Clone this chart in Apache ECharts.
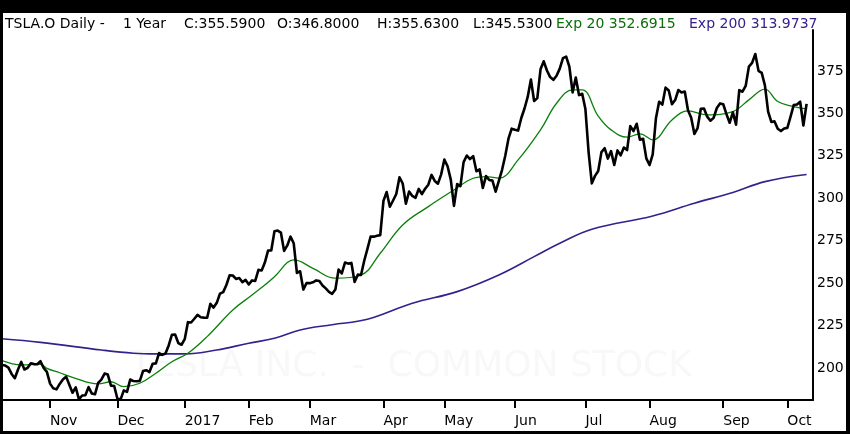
<!DOCTYPE html>
<html><head><meta charset="utf-8">
<script src="https://cdn.jsdelivr.net/npm/echarts@6/dist/echarts.min.js"></script>
<style>html,body{margin:0;padding:0;background:#fff;}#c{width:850px;height:434px;}</style>
</head><body><div id="c"></div>
<script>
// ---- data ----
const firstDay = '2016-10-11';
const lastDay = '2017-10-12';
const holidays = ['2016-11-24','2016-12-26','2017-01-02','2017-01-16','2017-02-20','2017-04-14','2017-05-29','2017-07-04','2017-09-04'];
const monthNames = ['Jan','Feb','Mar','Apr','May','Jun','Jul','Aug','Sep','Oct','Nov','Dec'];
const yTicks = [200,225,250,275,300,325,350,375];

// daily closes from 2016-10-11 to 2017-10-10
const closes = [
  201.8,201.5,200.2,196.5,194.0,199.1,203.6,199.1,200.1,202.8,202.3,202.2,204.0,200.0,197.7,
  190.8,188.0,187.4,190.6,193.2,194.9,190.1,185.4,188.6,181.5,183.8,183.9,188.7,185.0,184.5,191.2,193.1,196.7,196.1,189.6,189.4,
  181.9,181.5,186.8,185.9,193.2,192.3,192.2,192.4,198.2,198.7,197.6,202.5,202.7,208.8,207.7,208.5,213.3,219.5,219.7,214.7,213.7,
  217.0,227.0,226.8,229.0,231.3,229.9,229.7,229.6,237.8,235.6,238.4,243.8,244.7,248.9,254.6,254.5,252.5,253.0,250.6,251.9,
  249.2,251.6,251.3,257.8,257.5,262.1,269.2,269.2,280.6,281.0,279.8,269.0,272.2,277.4,273.5,256.0,257.0,246.2,250.0,
  250.0,250.5,251.6,251.2,248.6,246.9,244.9,243.7,246.2,258.0,255.7,262.1,261.5,261.9,250.7,255.0,254.8,263.2,270.2,277.5,277.4,277.9,278.3,
  298.5,303.7,295.0,298.7,302.5,312.4,308.7,296.8,304.0,301.4,300.3,305.5,302.5,305.6,308.0,313.8,310.2,308.6,314.1,
  322.8,318.9,311.0,295.5,308.4,307.2,321.3,325.2,323.1,324.8,315.9,317.0,306.1,313.1,310.8,310.4,303.9,310.2,316.8,325.1,335.1,341.0,
  340.4,339.9,347.3,352.9,359.7,370.0,357.3,359.0,376.0,380.7,375.3,371.4,369.8,372.2,376.4,382.6,383.5,377.5,362.4,371.2,360.8,361.6,
  352.6,327.1,308.8,313.2,316.1,327.2,329.5,323.4,327.8,319.6,328.2,325.3,329.9,328.4,342.5,339.6,343.9,334.5,335.1,323.5,
  319.6,325.9,347.1,356.9,355.2,365.2,363.5,355.4,357.9,363.8,362.3,362.9,351.9,347.5,337.9,341.4,352.8,352.9,348.1,345.7,347.4,353.2,355.9,
  355.4,349.6,344.5,350.6,343.4,363.7,362.8,366.2,377.6,379.8,385.0,375.1,373.9,366.5,351.1,345.0,345.3,341.0,339.6,341.1,
  341.5,348.1,355.0,355.3,356.9,342.9,355.6
];

const ema20Dates = ['2016-10-11','2016-10-19','2016-10-27','2016-10-31','2016-11-04','2016-11-10','2016-11-22','2016-11-29','2016-12-05','2016-12-12',
  '2016-12-19','2016-12-27','2017-01-04','2017-01-12','2017-01-25','2017-02-02','2017-02-13','2017-02-17','2017-02-22','2017-03-02',
  '2017-03-13','2017-03-23','2017-03-31','2017-04-11','2017-04-24','2017-05-04','2017-05-12','2017-05-18','2017-05-24','2017-06-02',
  '2017-06-13','2017-06-20','2017-06-27','2017-06-30','2017-07-10','2017-07-14','2017-07-21','2017-07-27','2017-08-02','2017-08-10',
  '2017-08-17','2017-08-25','2017-09-07','2017-09-14','2017-09-21','2017-09-27','2017-10-04','2017-10-10'];
const ema20Values = [204.3,201.8,202.2,199.8,197.2,194.5,190.6,191.9,189.0,191.0,
  196.9,203.7,208.7,218.5,234.2,243.0,253.8,262.1,263.7,258.7,
  252.9,254.8,267.6,284.3,295.1,304.9,311.8,312.8,311.8,322.6,
  340.3,356.0,363.9,363.9,348.4,340.3,336.0,338.0,334.4,346.2,
  351.5,349.2,351.1,358.0,364.3,357.0,354.0,352.7];

const ema200Dates = ['2016-10-11','2016-10-27','2016-11-23','2016-12-08','2016-12-19','2017-01-03','2017-01-18','2017-02-01','2017-02-13','2017-02-24',
  '2017-03-10','2017-03-27','2017-04-17','2017-05-05','2017-05-24','2017-06-09','2017-06-21','2017-07-06','2017-08-02','2017-08-21',
  '2017-09-07','2017-09-21','2017-10-10'];
const ema200Values = [217.2,215.1,210.6,208.7,208.3,208.3,210.6,214.6,217.5,222.4,
  225.5,228.7,238.1,245.0,254.8,265.6,273.5,281.8,289.6,297.1,
  303.4,309.8,314.0];

// ---- build ----
function tradingDays(from, to, skip) {
  const out = [];
  const d = new Date(from + 'T00:00:00Z');
  const end = new Date(to + 'T00:00:00Z');
  while (d <= end) {
    const s = d.toISOString().slice(0, 10);
    const wd = d.getUTCDay();
    if (wd !== 0 && wd !== 6 && skip.indexOf(s) < 0) out.push(s);
    d.setUTCDate(d.getUTCDate() + 1);
  }
  return out;
}
const categories = tradingDays(firstDay, lastDay, holidays);
function sparse(dates, vals) {
  const m = {};
  dates.forEach((d, i) => { m[d] = vals[i]; });
  return categories.map(d => (d in m ? m[d] : null));
}
function isMonthStart(i) {
  return i > 0 && categories[i].slice(5, 7) !== categories[i - 1].slice(5, 7);
}

const FONT = 'DejaVu Sans';
const chart = echarts.init(document.getElementById('c'), null, { renderer: 'canvas' });

const headText = (x, text, color) => ({
  type: 'text', x: x, y: 24, z: 50,
  style: { text: text, fill: color, font: '14px "DejaVu Sans"', textVerticalAlign: 'middle', textAlign: 'left' }
});

chart.setOption({
  animation: false,
  backgroundColor: '#fff',
  grid: { left: 2, right: 37, top: 30, bottom: 34 },
  xAxis: {
    type: 'category',
    data: categories,
    boundaryGap: false,
    axisLine: { show: true, lineStyle: { color: '#000', width: 2 } },
    axisTick: { show: true, interval: (i) => isMonthStart(i), length: 8, lineStyle: { color: '#000', width: 2 } },
    axisLabel: {
      interval: (i) => isMonthStart(i),
      formatter: (v) => { const m = parseInt(v.slice(5, 7), 10); return m === 1 ? v.slice(0, 4) : monthNames[m - 1]; },
      align: 'left', margin: 14, fontSize: 14, color: '#000', fontFamily: FONT
    },
    splitLine: { show: false }
  },
  yAxis: {
    type: 'value',
    position: 'right',
    min: 181.14, max: 399.16,
    axisLine: { show: true, lineStyle: { color: '#000', width: 2 } },
    axisTick: { show: false },
    splitLine: { show: false },
    axisLabel: { customValues: yTicks, margin: 4, fontSize: 14, color: '#000', fontFamily: FONT }
  },
  graphic: [
    { type: 'text', x: 411, y: 367, z: 0, silent: true,
      style: { text: 'TESLA INC.  -  COMMON STOCK', fill: '#f8f8f8', font: '36px "DejaVu Sans"', textAlign: 'center', textVerticalAlign: 'middle' } },
    headText(5, 'TSLA.O Daily -', '#000'),
    headText(123, '1 Year', '#000'),
    headText(184, 'C:355.5900', '#000'),
    headText(277, 'O:346.8000', '#000'),
    headText(377, 'H:355.6300', '#000'),
    headText(473, 'L:345.5300', '#000'),
    headText(556, 'Exp 20 352.6915', '#0b6e0b'),
    headText(689, 'Exp 200 313.9737', '#35208c'),
    { type: 'rect', z: 100, shape: { x: 0, y: 0, width: 850, height: 13 }, style: { fill: '#000' } },
    { type: 'rect', z: 100, shape: { x: 0, y: 0, width: 3, height: 434 }, style: { fill: '#000' } },
    { type: 'rect', z: 100, shape: { x: 0, y: 431, width: 850, height: 3 }, style: { fill: '#000' } },
    { type: 'rect', z: 100, shape: { x: 846, y: 0, width: 4, height: 434 }, style: { fill: '#000' } }
  ],
  series: [
    { name: 'Exp 200', type: 'line', data: sparse(ema200Dates, ema200Values), connectNulls: true, smooth: 0.4,
      showSymbol: false, lineStyle: { color: '#35208c', width: 1.6 }, z: 3 },
    { name: 'Exp 20', type: 'line', data: sparse(ema20Dates, ema20Values), connectNulls: true, smooth: 0.4,
      showSymbol: false, lineStyle: { color: '#0a800a', width: 1.3 }, z: 4 },
    { name: 'Close', type: 'line', data: closes, showSymbol: false,
      lineStyle: { color: '#000', width: 2.6, join: 'round' }, z: 5 }
  ]
});
</script>
</body></html>
